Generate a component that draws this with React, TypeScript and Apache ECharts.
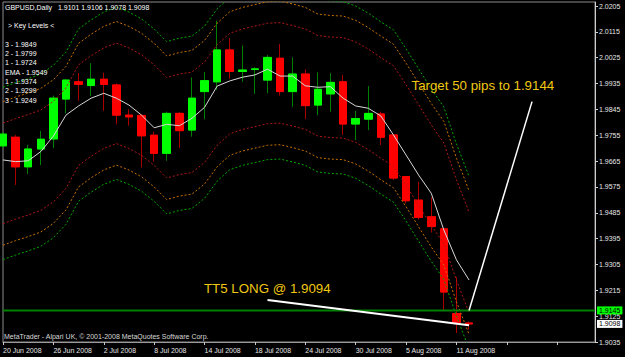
import React, { useEffect, useRef } from 'react';
import * as echarts from 'echarts';

// ---------- data ----------
const dates = [
  '20 Jun 2008', '23 Jun 2008', '24 Jun 2008', '25 Jun 2008', '26 Jun 2008', '27 Jun 2008', '30 Jun 2008',
  '1 Jul 2008', '2 Jul 2008', '3 Jul 2008', '4 Jul 2008', '7 Jul 2008', '8 Jul 2008', '9 Jul 2008',
  '10 Jul 2008', '11 Jul 2008', '14 Jul 2008', '15 Jul 2008', '16 Jul 2008', '17 Jul 2008', '18 Jul 2008',
  '21 Jul 2008', '22 Jul 2008', '23 Jul 2008', '24 Jul 2008', '25 Jul 2008', '28 Jul 2008', '29 Jul 2008',
  '30 Jul 2008', '31 Jul 2008', '1 Aug 2008', '4 Aug 2008', '5 Aug 2008', '6 Aug 2008', '7 Aug 2008',
  '8 Aug 2008', '11 Aug 2008', '12 Aug 2008',
];
const emptySlotCount = 10;

const opens = [1.9718, 1.9748, 1.9645, 1.9707, 1.9742, 1.9881, 1.9941, 1.9928, 1.9950, 1.9930, 1.9825, 1.9824, 1.9755, 1.9692, 1.9831, 1.9773, 1.9907, 1.9941, 2.0052, 1.9977, 1.9984, 1.9947, 2.0023, 1.9907, 1.9968, 1.9860, 1.9899, 1.9941, 1.9794, 1.9811, 1.9829, 1.9756, 1.9611, 1.9529, 1.9471, 1.9429, 1.9134, 1.9101];
const highs = [1.9766, 1.9756, 1.9721, 1.9770, 1.9893, 1.9951, 1.9972, 2.0006, 1.9973, 1.9936, 1.9845, 1.9829, 1.9767, 1.9837, 1.9836, 1.9956, 1.9975, 2.0154, 2.0093, 2.0067, 1.9992, 2.0034, 2.0073, 2.0026, 1.9985, 1.9974, 1.9971, 1.9965, 1.9840, 1.9926, 1.9837, 1.9759, 1.9613, 1.9593, 1.9539, 1.9432, 1.9261, 1.9106];
const lows = [1.9711, 1.9582, 1.9620, 1.9651, 1.9710, 1.9831, 1.9875, 1.9892, 1.9840, 1.9793, 1.9788, 1.9643, 1.9663, 1.9666, 1.9710, 1.9750, 1.9811, 1.9913, 1.9951, 1.9941, 1.9899, 1.9901, 1.9893, 1.9854, 1.9811, 1.9825, 1.9837, 1.9756, 1.9738, 1.9773, 1.9721, 1.9599, 1.9518, 1.9462, 1.9416, 1.9146, 1.9066, 1.9078];
const closes = [1.9759, 1.9645, 1.9707, 1.9741, 1.9884, 1.9947, 1.9932, 1.9950, 1.9932, 1.9825, 1.9819, 1.9753, 1.9692, 1.9831, 1.9771, 1.9884, 1.9945, 2.0052, 1.9977, 1.9982, 1.9986, 2.0026, 1.9907, 1.9968, 1.9858, 1.9915, 1.9939, 1.9794, 1.9813, 1.9831, 1.9748, 1.9606, 1.9527, 1.9469, 1.9437, 1.9209, 1.9102, 1.9098];

const ema = [1.9669, 1.9663, 1.9666, 1.9698, 1.9752, 1.9825, 1.9857, 1.9884, 1.9901, 1.9884, 1.9860, 1.9825, 1.9781, 1.9793, 1.9788, 1.9814, 1.9852, 1.9926, 1.9944, 1.9957, 1.9965, 1.9985, 1.9961, 1.9961, 1.9927, 1.9922, 1.9924, 1.9884, 1.9857, 1.9849, 1.9822, 1.9756, 1.9686, 1.9616, 1.9553, 1.9425, 1.9321, 1.9251];

const upperRed = [1.9797, 1.9813, 1.9827, 1.9843, 1.9873, 1.9920, 2.0000, 2.0032, 2.0059, 2.0076, 2.0059, 2.0035, 2.0000, 1.9956, 1.9968, 1.9975, 2.0010, 2.0070, 2.0110, 2.0125, 2.0135, 2.0145, 2.0147, 2.0137, 2.0125, 2.0102, 2.0097, 2.0095, 2.0080, 2.0055, 2.0025, 1.9997, 1.9931, 1.9861, 1.9791, 1.9728, 1.9600, 1.9487];
const upperOrange = [1.9872, 1.9888, 1.9902, 1.9918, 1.9948, 1.9995, 2.0075, 2.0107, 2.0134, 2.0151, 2.0134, 2.0110, 2.0075, 2.0031, 2.0043, 2.0050, 2.0085, 2.0145, 2.0185, 2.0200, 2.0210, 2.0220, 2.0222, 2.0212, 2.0200, 2.0177, 2.0172, 2.0170, 2.0155, 2.0130, 2.0100, 2.0072, 2.0006, 1.9936, 1.9866, 1.9803, 1.9675, 1.9562];
const upperGreen = [1.9922, 1.9938, 1.9952, 1.9968, 1.9998, 2.0045, 2.0125, 2.0157, 2.0184, 2.0201, 2.0184, 2.0160, 2.0125, 2.0081, 2.0093, 2.0100, 2.0135, 2.0195, 2.0235, 2.0250, 2.0260, 2.0270, 2.0272, 2.0262, 2.0250, 2.0227, 2.0222, 2.0220, 2.0205, 2.0180, 2.0150, 2.0122, 2.0056, 1.9986, 1.9916, 1.9853, 1.9725, 1.9612];
const lowerRed = [1.9447, 1.9463, 1.9477, 1.9493, 1.9523, 1.9570, 1.9650, 1.9682, 1.9709, 1.9726, 1.9709, 1.9685, 1.9650, 1.9606, 1.9618, 1.9625, 1.9660, 1.9720, 1.9760, 1.9775, 1.9785, 1.9795, 1.9797, 1.9787, 1.9775, 1.9752, 1.9747, 1.9745, 1.9730, 1.9705, 1.9675, 1.9647, 1.9581, 1.9511, 1.9441, 1.9378, 1.9250, 1.9137];
const lowerOrange = [1.9372, 1.9388, 1.9402, 1.9418, 1.9448, 1.9495, 1.9575, 1.9607, 1.9634, 1.9651, 1.9634, 1.9610, 1.9575, 1.9531, 1.9543, 1.9550, 1.9585, 1.9645, 1.9685, 1.9700, 1.9710, 1.9720, 1.9722, 1.9712, 1.9700, 1.9677, 1.9672, 1.9670, 1.9655, 1.9630, 1.9600, 1.9572, 1.9506, 1.9436, 1.9366, 1.9303, 1.9175, 1.9062];
const lowerGreen = [1.9322, 1.9338, 1.9352, 1.9368, 1.9398, 1.9445, 1.9525, 1.9557, 1.9584, 1.9601, 1.9584, 1.9560, 1.9525, 1.9481, 1.9493, 1.9500, 1.9535, 1.9595, 1.9635, 1.9650, 1.9660, 1.9670, 1.9672, 1.9662, 1.9650, 1.9627, 1.9622, 1.9620, 1.9605, 1.9580, 1.9550, 1.9522, 1.9456, 1.9386, 1.9316, 1.9253, 1.9125, 1.9012];

const priceTickStart = 1.9035;
const priceTickStep = 0.009;
const priceVisibleTop = 2.0205;

const entryLevel = 1.9145;
const bidLevel = 1.9098;
const tt5LineX = [21, 37];
const tt5LineY = [1.9181, 1.9093];
const targetLineX = [37, 42];
const targetLineY = [1.9145, 1.9872];

const headerText = 'GBPUSD,Daily\u00a0\u00a0 1.9101 1.9106 1.9078 1.9098';
const keyTitle = '> Key Levels <';
const keyLevels = ['3 - 1.9849', '2 - 1.9799', '1 - 1.9724', 'EMA - 1.9549', '1 - 1.9374', '2 - 1.9299', '3 - 1.9249'];
const creditText = 'MetaTrader - Alpari UK, \u00a9 2001-2008 MetaQuotes Software Corp.';
const tt5Text = 'TT5 LONG @ 1.9094';
const targetText = 'Target 50 pips to 1.9144';

// ---------- component ----------
const FONT = '"Liberation Sans", Arial, sans-serif';

export default function App() {
  const ref = useRef<HTMLDivElement>(null);

  useEffect(() => {
    if (!ref.current) return;
    const chart = echarts.init(ref.current, undefined, { renderer: 'svg' });

    const gridTop = 2;
    const gridBottom = 15;
    const plotH = 357 - gridTop - gridBottom;
    const pxPerUnit = 336 / (priceVisibleTop - priceTickStart);
    const yMax = priceTickStart + plotH / pxPerUnit;
    const pipScale = 10000;

    const categories = dates.concat(new Array(emptySlotCount).fill(''));
    const lastSlot = categories.length - 1;

    const candleFull = dates.map((_, i) => [opens[i], closes[i], lows[i], highs[i]]);
    const candleBody = dates.map((_, i) => [
      opens[i], closes[i], Math.min(opens[i], closes[i]), Math.max(opens[i], closes[i]),
    ]);

    const band = (name: string, data: number[], color: string) => ({
      type: 'line', name, data, symbol: 'none', showSymbol: false, silent: true, z: 3,
      lineStyle: { color, width: 1, type: [2, 2] },
    });

    const smallLabel = { fontSize: 7, fontFamily: FONT };

    const txt = (text: string, x: number, y: number, fill: string, size: number) => ({
      type: 'text', x, y, silent: true, z: 10,
      style: { text, fill, font: `${size}px ${FONT}`, verticalAlign: 'middle', align: 'left' },
    });

    const option: any = {
      animation: false,
      backgroundColor: '#000000',
      textStyle: { fontFamily: FONT },
      grid: {
        left: 2, right: 30, top: gridTop, bottom: gridBottom,
        show: true, borderColor: '#8c8c8c', borderWidth: 1, backgroundColor: 'transparent',
      },
      xAxis: {
        type: 'category',
        data: categories,
        boundaryGap: false,
        axisLine: { show: true, lineStyle: { color: '#9a9a9a', width: 1 } },
        axisTick: { show: true, interval: 3, length: 3, lineStyle: { color: '#c8c8c8' } },
        axisLabel: { interval: 3, align: 'left', margin: 5, color: '#e6e6e6', ...smallLabel },
        splitLine: { show: false },
      },
      yAxis: [
        { type: 'value', min: priceTickStart, max: yMax, show: false, splitLine: { show: false } },
        {
          type: 'value', position: 'right', min: 0, max: (yMax - priceTickStart) * pipScale,
          interval: priceTickStep * pipScale,
          axisLine: { show: true, lineStyle: { color: '#cfcfcf' } },
          axisTick: { show: true, length: 3, lineStyle: { color: '#cfcfcf' } },
          axisLabel: {
            margin: 4, color: '#e6e6e6', showMaxLabel: false, ...smallLabel,
            formatter: (v: number) => (priceTickStart + v / pipScale).toFixed(4),
          },
          splitLine: { show: false },
        },
      ],
      series: [
        {
          type: 'candlestick', name: 'wicks', data: candleFull, barWidth: 8, clip: true, silent: true, z: 2,
          itemStyle: { color: '#008000', color0: '#a80000', borderColor: '#008000', borderColor0: '#a80000', borderWidth: 1 },
        },
        {
          type: 'candlestick', name: 'bodies', data: candleBody, barWidth: 8, clip: true, silent: true, z: 2,
          itemStyle: { color: '#00ff00', color0: '#ff0000', borderColor: '#00ff00', borderColor0: '#ff0000', borderWidth: 1 },
        },
        band('upper3', upperGreen, '#00a800'),
        band('upper2', upperOrange, '#c87000'),
        band('upper1', upperRed, '#b01818'),
        band('lower1', lowerRed, '#b01818'),
        band('lower2', lowerOrange, '#c87000'),
        band('lower3', lowerGreen, '#00a800'),
        {
          type: 'line', name: 'EMA', data: ema, symbol: 'none', showSymbol: false, silent: true, z: 4,
          lineStyle: { color: '#d8d8d8', width: 1 },
        },
        {
          type: 'line', name: 'entry', data: [[0, entryLevel], [lastSlot, entryLevel]], symbol: 'none',
          showSymbol: false, silent: true, clip: false, z: 3,
          lineStyle: { color: '#008000', width: 2 },
          endLabel: {
            show: true, formatter: () => entryLevel.toFixed(4), color: '#000000', backgroundColor: '#00ff00',
            padding: [1, 2, 0, 2], distance: 2, ...smallLabel,
          },
        },
        {
          type: 'line', name: 'bid', data: [[0, bidLevel], [lastSlot, bidLevel]], symbol: 'none',
          showSymbol: false, silent: true, clip: false, z: 3,
          lineStyle: { color: '#808080', width: 1, opacity: 0 },
          endLabel: {
            show: true, formatter: () => bidLevel.toFixed(4), color: '#000000', backgroundColor: '#ffffff',
            padding: [1, 2, 0, 2], distance: 2, ...smallLabel,
          },
        },
        {
          type: 'line', name: 'tt5', data: tt5LineX.map((x, i) => [x, tt5LineY[i]]), symbol: 'none',
          showSymbol: false, silent: true, z: 6, lineStyle: { color: '#ffffff', width: 2 },
        },
        {
          type: 'line', name: 'target', data: targetLineX.map((x, i) => [x, targetLineY[i]]), symbol: 'none',
          showSymbol: false, silent: true, z: 6, lineStyle: { color: '#ffffff', width: 1.5 },
        },
      ],
      graphic: [
        txt(headerText, 5, 7, '#ffffff', 7),
        txt(keyTitle, 8, 25, '#ffffff', 7),
        ...keyLevels.map((t, i) => txt(t, 5, 44.3 + i * 9.3, '#ffffff', 7)),
        txt(creditText, 4, 336, '#d8d8d8', 7),
        txt(tt5Text, 204, 288.5, '#f0c814', 13.3),
        txt(targetText, 411.5, 85, '#f0c814', 13.3),
      ],
    };

    chart.setOption(option);
    return () => chart.dispose();
  }, []);

  return <div ref={ref} style={{ position: 'absolute', left: 0, top: 0, width: 625, height: 357 }} />;
}
